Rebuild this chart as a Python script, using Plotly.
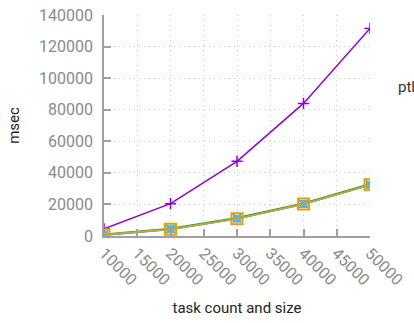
import plotly.graph_objects as go

# task count / size on x, elapsed time in msec on y
task_sizes = [10000, 20000, 30000, 40000, 50000]
series_a = [4500, 20500, 47300, 84000, 131500]
series_b = [800, 4400, 11200, 20400, 32600]
series_c = [800, 4300, 11000, 20300, 32400]
series_d = [800, 4300, 11000, 20300, 32400]

x_ticks = list(range(10000, 50001, 5000))
y_ticks = list(range(0, 140001, 20000))

FONT = "Roboto"
TICK_GREY = "#8a8a8a"
AXIS_GREY = "#a0a0a0"
GRID_GREY = "#c8c8c8"

fig = go.Figure()

fig.add_trace(go.Scatter(
    x=task_sizes, y=series_a, mode="lines+markers", name="ptl",
    line=dict(color="#9400d3", width=1.5),
    marker=dict(symbol="cross-thin", size=8, line=dict(color="#9400d3", width=1.5)),
))
fig.add_trace(go.Scatter(
    x=task_sizes, y=series_b, mode="lines+markers", name="b",
    line=dict(color="#009e73", width=2.5),
    marker=dict(symbol="x-thin", size=8, line=dict(color="#009e73", width=1.5)),
))
fig.add_trace(go.Scatter(
    x=task_sizes, y=series_c, mode="lines+markers", name="c",
    line=dict(color="#56b4e9", width=1.5),
    marker=dict(symbol="square", size=7, color="#56b4e9",
                line=dict(color="#56b4e9", width=1)),
))
fig.add_trace(go.Scatter(
    x=task_sizes, y=series_d, mode="lines+markers", name="d",
    line=dict(color="#e6a000", width=1.5),
    marker=dict(symbol="square-open", size=11, color="#e6a000",
                line=dict(color="#e6a000", width=2)),
))

# key text at the right edge
fig.add_annotation(
    text="ptl", xref="paper", yref="paper", x=1.098, y=0.675,
    xanchor="left", yanchor="middle", showarrow=False,
    font=dict(family=FONT, size=15, color="#333333"),
)

fig.update_layout(
    width=414, height=323,
    margin=dict(l=104, r=44, t=15, b=87),
    paper_bgcolor="white", plot_bgcolor="white",
    showlegend=False,
    font=dict(family=FONT, size=16, color=TICK_GREY),
)

fig.update_xaxes(
    range=[10000, 50000], tickvals=x_ticks, ticktext=[str(v) for v in x_ticks],
    tickangle=45, ticks="inside", ticklen=7, tickcolor=AXIS_GREY, tickwidth=1.5,
    showline=True, linecolor=AXIS_GREY, linewidth=1.5, automargin=False,
    showgrid=True, gridcolor=GRID_GREY, griddash="1px,4px", gridwidth=1,
    zeroline=False, tickfont=dict(family=FONT, size=16, color=TICK_GREY),
    title=dict(text="task count and size", standoff=14,
               font=dict(family=FONT, size=15, color="#222222")),
)
fig.update_yaxes(
    range=[0, 140000], tickvals=y_ticks, ticktext=[str(v) for v in y_ticks],
    ticks="inside", ticklen=7, tickcolor=AXIS_GREY, tickwidth=1.5,
    showline=True, linecolor=AXIS_GREY, linewidth=1.5, automargin=False,
    showgrid=True, gridcolor=GRID_GREY, griddash="1px,4px", gridwidth=1,
    zeroline=False, ticklabelstandoff=6,
    tickfont=dict(family=FONT, size=16, color=TICK_GREY),
    title=dict(text="msec", standoff=16,
               font=dict(family=FONT, size=15, color="#222222")),
)

fig.write_html("out.html")
